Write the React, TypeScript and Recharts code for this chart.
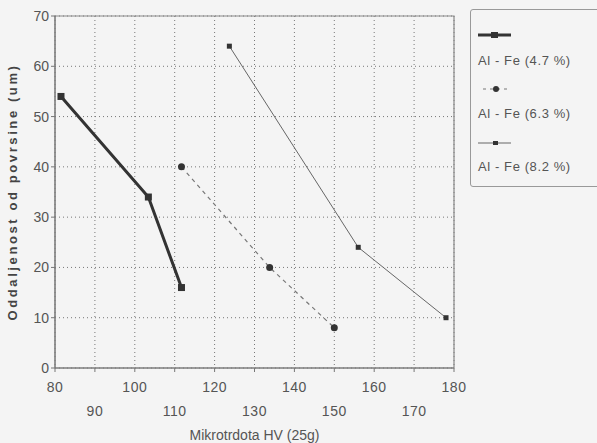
import React from "react";
import {
    LineChart, Line, XAxis, YAxis, CartesianGrid, ReferenceArea
} from "recharts";

// Hardness (HV 25g) vs distance from surface (um)
const hv47 = [81.5, 103.4, 111.7];
const depth47 = [54, 34, 16];
const hv63 = [111.7, 133.8, 150];
const depth63 = [40, 20, 8];
const hv82 = [123.7, 156, 178];
const depth82 = [64, 24, 10];

const xTicks = [80, 90, 100, 110, 120, 130, 140, 150, 160, 170, 180];
const yTicks = [0, 10, 20, 30, 40, 50, 60, 70];
const seriesNames = ["Al - Fe (4.7 %)", "Al - Fe (6.3 %)", "Al - Fe (8.2 %)"];

const toPoints = (xs: number[], ys: number[]) => xs.map((x, i) => ({ x, y: ys[i] }));

const FONT = "'Liberation Sans', Arial, sans-serif";
const TEXT = "#555";

const SquareDot = (size: number) => (props: any) => {
    const { cx, cy, key } = props;
    return <rect key={key} x={cx - size / 2} y={cy - size / 2} width={size} height={size} fill="#333" />;
};

const RoundDot = (props: any) => {
    const { cx, cy, key } = props;
    return <circle key={key} cx={cx} cy={cy} r={3.5} fill="#333" />;
};

// two-row tick labels: 80,100,... on the first row, 90,110,... below
const XTick = (props: any) => {
    const { x, y, payload } = props;
    const lower = Math.round((payload.value - 80) / 10) % 2 === 1;
    return (
        <text x={x} y={y} dy={lower ? 42 : 18} textAnchor="middle" fill={TEXT} fontSize={14} fontFamily={FONT} letterSpacing={0.5}>
            {payload.value}
        </text>
    );
};

const LegendBox = () => (
    <div style={{
        position: "absolute", left: 470, top: 9, width: 140, height: 178, border: "1px solid #999", borderRadius: 3,
        boxSizing: "border-box", fontFamily: FONT, fontSize: 13, letterSpacing: 0.6, color: TEXT
    }}>
        <svg width={60} height={160} style={{ position: "absolute", left: 0, top: 0 }}>
            <line x1={7} x2={40} y1={25} y2={25} stroke="#333" strokeWidth={3} />
            <rect x={20} y={22} width={7} height={6} fill="#333" />
            <line x1={12} x2={40} y1={79} y2={79} stroke="#777" strokeWidth={1.2} strokeDasharray="3 4" />
            <circle cx={25} cy={79} r={3} fill="#333" />
            <line x1={7} x2={40} y1={133} y2={133} stroke="#666" strokeWidth={1} />
            <rect x={22} y={131} width={5} height={4} fill="#333" />
        </svg>
        {seriesNames.map((n, i) => (
            <div key={n} style={{ position: "absolute", left: 7, top: 43 + i * 53, whiteSpace: "nowrap" }}>{n}</div>
        ))}
    </div>
);

export default function App() {
    return (
        <div style={{ position: "absolute", left: 0, top: 0, width: 597, height: 443, background: "#f4f4f4", overflow: "hidden" }}>
            <LineChart width={597} height={443} margin={{ top: 16, right: 143, bottom: 0, left: 15 }}>
                <CartesianGrid stroke="#777" strokeDasharray="1 3" />
                <XAxis
                    type="number" dataKey="x" domain={[80, 180]} ticks={xTicks} interval={0} allowDataOverflow
                    height={75} tick={<XTick />} tickSize={4} stroke="#777"
                    label={{ value: "Mikrotrdota HV (25g)", position: "insideBottom", offset: 3, fill: TEXT, fontSize: 14, fontFamily: FONT }}
                />
                <YAxis
                    type="number" dataKey="y" domain={[0, 70]} ticks={yTicks} interval={0} width={40} tickSize={4} stroke="#777"
                    tick={{ fill: TEXT, fontSize: 14, fontFamily: FONT }}
                    label={{
                        value: "Oddaljenost od povrsine (um)", angle: -90, position: "insideLeft", offset: -3,
                        style: { textAnchor: "middle", fill: "#444", fontSize: 13, fontWeight: "bold", fontFamily: FONT, letterSpacing: 2.6 }
                    }}
                />
                <ReferenceArea x1={80} x2={180} y1={0} y2={70} fill="none" stroke="#888" strokeWidth={1.2} />
                <Line data={toPoints(hv47, depth47)} dataKey="y" name={seriesNames[0]} stroke="#333" strokeWidth={3}
                    dot={SquareDot(7)} isAnimationActive={false} />
                <Line data={toPoints(hv63, depth63)} dataKey="y" name={seriesNames[1]} stroke="#777" strokeWidth={1.2}
                    strokeDasharray="4 4" dot={RoundDot} isAnimationActive={false} />
                <Line data={toPoints(hv82, depth82)} dataKey="y" name={seriesNames[2]} stroke="#666" strokeWidth={1}
                    dot={SquareDot(5)} isAnimationActive={false} />
            </LineChart>
            <LegendBox />
        </div>
    );
}
